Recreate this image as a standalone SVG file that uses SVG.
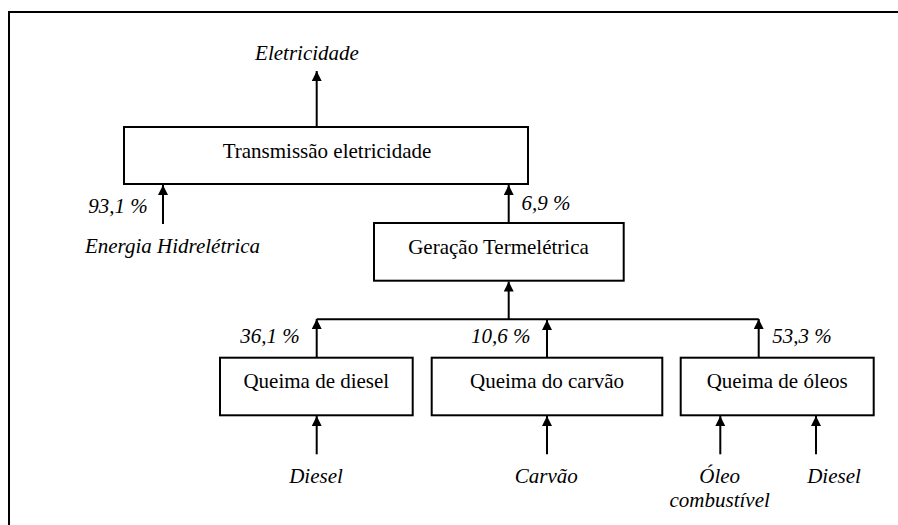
<svg xmlns="http://www.w3.org/2000/svg" width="898" height="525" viewBox="0 0 898 525">
<style>
.box{fill:#fff;stroke:#000;stroke-width:2}
.c{stroke:#000;stroke-width:2;fill:none}
.t{font-family:"Liberation Serif","Times New Roman",serif;font-size:21px;fill:#000;text-anchor:middle}
.i{font-style:italic}
</style>
<defs>
<marker id="ah" markerWidth="10" markerHeight="10" refX="10" refY="5" orient="auto" markerUnits="userSpaceOnUse">
<path d="M0,0 L10,5 L0,10 Z" fill="#000"/>
</marker>
</defs>
<rect width="898" height="525" fill="#fff"/>
<path d="M9,525 V12 H898" stroke="#000" stroke-width="2" fill="none"/>
<g id="connectors">
<line class="c" x1="316.7" y1="127" x2="316.7" y2="71" marker-end="url(#ah)"/>
<line class="c" x1="163" y1="224" x2="163" y2="185" marker-end="url(#ah)"/>
<line class="c" x1="508.7" y1="223" x2="508.7" y2="185" marker-end="url(#ah)"/>
<line class="c" x1="508.7" y1="319.3" x2="508.7" y2="281.5" marker-end="url(#ah)"/>
<line class="c" x1="316.7" y1="319.3" x2="758.7" y2="319.3"/>
<line class="c" x1="316.7" y1="357.7" x2="316.7" y2="319" marker-end="url(#ah)"/>
<line class="c" x1="547" y1="357.7" x2="547" y2="320" marker-end="url(#ah)"/>
<line class="c" x1="758.7" y1="357.7" x2="758.7" y2="319" marker-end="url(#ah)"/>
<line class="c" x1="316.7" y1="454.3" x2="316.7" y2="416" marker-end="url(#ah)"/>
<line class="c" x1="547" y1="454.3" x2="547" y2="416" marker-end="url(#ah)"/>
<line class="c" x1="720.3" y1="454.3" x2="720.3" y2="416" marker-end="url(#ah)"/>
<line class="c" x1="816" y1="454.3" x2="816" y2="416" marker-end="url(#ah)"/>
</g>
<g id="labels">
<text class="t i" x="307" y="60">Eletricidade</text>
<text class="t i" x="118" y="213">93,1 %</text>
<text class="t i" x="172.5" y="253">Energia Hidrelétrica</text>
<text class="t i" x="546" y="210">6,9 %</text>
<text class="t i" x="270" y="343">36,1 %</text>
<text class="t i" x="500.7" y="343">10,6 %</text>
<text class="t i" x="802" y="343">53,3 %</text>
<text class="t i" x="316" y="483">Diesel</text>
<text class="t i" x="546.3" y="483">Carvão</text>
<text class="t i" x="719.7" y="483">Óleo</text>
<text class="t i" x="719.7" y="507">combustível</text>
<text class="t i" x="834" y="483">Diesel</text>
</g>
<g id="transmissao">
<rect class="box" x="124" y="127" width="404" height="57"/>
<text class="t" x="327" y="158">Transmissão eletricidade</text>
</g>
<g id="geracao">
<rect class="box" x="374" y="223" width="249.7" height="57.7"/>
<text class="t" x="498.5" y="254">Geração Termelétrica</text>
</g>
<g id="queima-diesel">
<rect class="box" x="220" y="357.7" width="192.7" height="57.6"/>
<text class="t" x="316.3" y="388">Queima de diesel</text>
</g>
<g id="queima-carvao">
<rect class="box" x="431.7" y="357.7" width="230.6" height="57.6"/>
<text class="t" x="547" y="388">Queima do carvão</text>
</g>
<g id="queima-oleos">
<rect class="box" x="680.7" y="357.7" width="193" height="57.6"/>
<text class="t" x="777.2" y="388">Queima de óleos</text>
</g>
</svg>
